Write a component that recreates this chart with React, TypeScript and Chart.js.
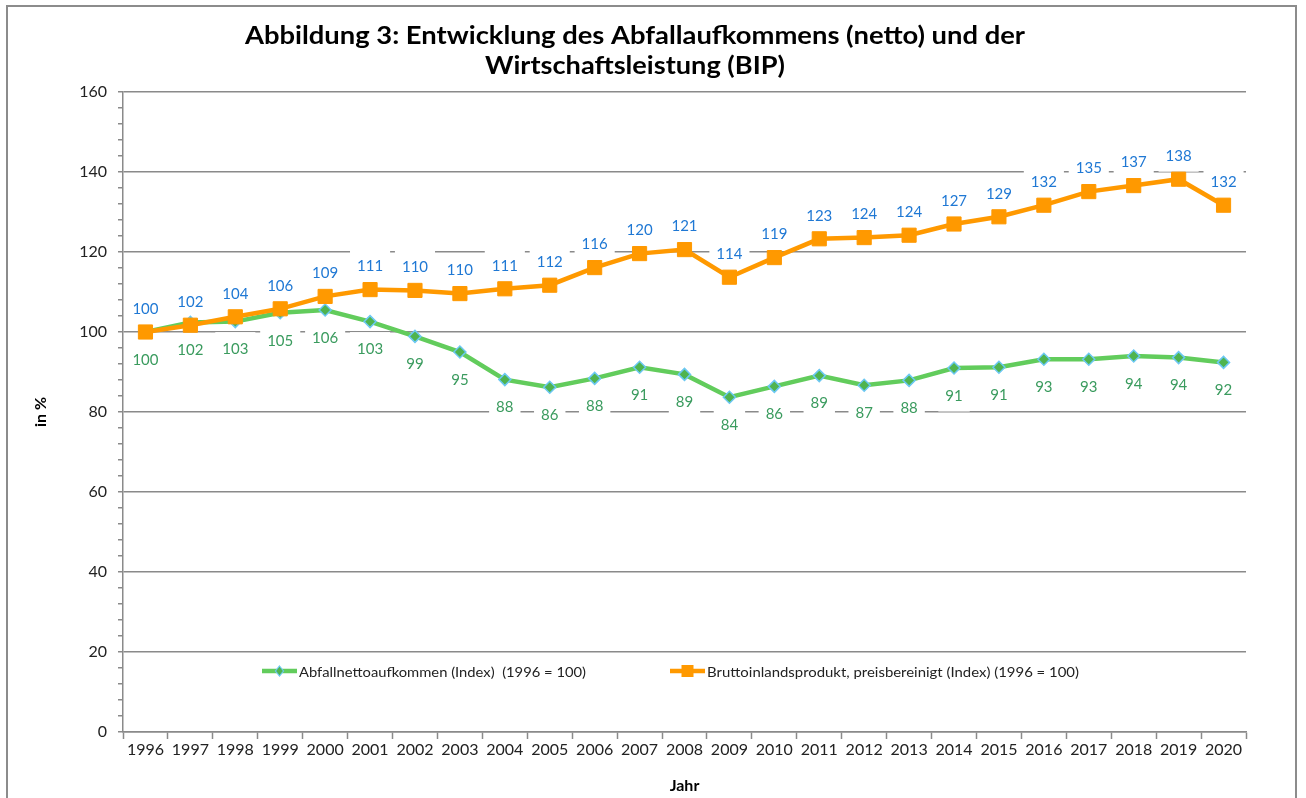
import React, { useEffect, useRef } from 'react';
import { Chart, registerables } from 'chart.js';

Chart.register(...registerables);

// ---------- data ----------
const years = [
  '1996', '1997', '1998', '1999', '2000', '2001', '2002', '2003', '2004', '2005',
  '2006', '2007', '2008', '2009', '2010', '2011', '2012', '2013', '2014', '2015',
  '2016', '2017', '2018', '2019', '2020',
];

const abfallIndex = [
  100, 102.4, 102.6, 104.8, 105.5, 102.6, 98.9, 95.0, 88.1, 86.2,
  88.4, 91.2, 89.4, 83.7, 86.4, 89.1, 86.7, 87.9, 91.0, 91.2,
  93.2, 93.2, 94.0, 93.6, 92.4,
];

const bipIndex = [
  100, 101.7, 103.8, 105.8, 108.9, 110.6, 110.4, 109.6, 110.8, 111.7,
  116.1, 119.6, 120.6, 113.7, 118.6, 123.3, 123.6, 124.2, 127.0, 128.8,
  131.7, 135.1, 136.6, 138.2, 131.7,
];

const titleLines = [
  'Abbildung 3: Entwicklung des Abfallaufkommens (netto) und der',
  'Wirtschaftsleistung (BIP)',
];
const seriesNames = [
  'Abfallnettoaufkommen (Index)  (1996 = 100)',
  'Bruttoinlandsprodukt, preisbereinigt (Index) (1996 = 100)',
];
const yAxisTitle = 'in %';
const xAxisTitle = 'Jahr';
const yMin = 0;
const yMax = 160;
const yMinorStep = 4;
const yMajorStep = 20;

// ---------- styles ----------
const FONT = 'Lato';
const GRID = '#8a8a8a';
const GREEN_LINE = '#62cc5c';
const GREEN_FILL = '#4fb44f';
const DIAMOND_EDGE = '#6cc8f2';
const ORANGE = '#ff9900';
const BLUE_LABEL = '#1f78d4';
const GREEN_LABEL = '#3a9b5e';

const valueLabelPlugin = {
  id: 'valueLabels',
  beforeDatasetsDraw(chart: any, _a: any, opts: any) {
    drawValueLabels(chart, opts, true);
  },
  afterDatasetsDraw(chart: any, _a: any, opts: any) {
    drawValueLabels(chart, opts, false);
  },
};

function drawValueLabels(chart: any, opts: any, boxes: boolean) {
  const ctx = chart.ctx;
  ctx.save();
  ctx.font = `15px ${FONT}`;
  ctx.textAlign = 'center';
  ctx.textBaseline = 'middle';
  chart.data.datasets.forEach((ds: any, i: number) => {
    const meta = chart.getDatasetMeta(i);
    const off = opts.offsets[i];
    const col = opts.colors[i];
    meta.data.forEach((pt: any, j: number) => {
      const txt = String(Math.round(ds.data[j]));
      const x = pt.x;
      const y = pt.y + off;
      if (boxes) {
        const w = ctx.measureText(txt).width + 14;
        ctx.fillStyle = '#ffffff';
        ctx.fillRect(x - w / 2, y - 16.5, w, 33);
      } else {
        ctx.fillStyle = col;
        ctx.fillText(txt, x, y + 1);
      }
    });
  });
  ctx.restore();
}

// draw text centred at cx, stretched horizontally to a given width
function stretchedText(ctx: CanvasRenderingContext2D, text: string, cx: number, y: number, targetW: number) {
  const w = ctx.measureText(text).width;
  const sx = targetW / w;
  ctx.save();
  ctx.translate(cx, y);
  ctx.scale(sx, 1);
  ctx.textAlign = 'center';
  ctx.fillText(text, 0, 0);
  ctx.restore();
}

const decorPlugin = {
  id: 'decor',
  afterDraw(chart: any) {
    const ctx = chart.ctx;
    const area = chart.chartArea;
    ctx.save();
    // outer frame
    ctx.strokeStyle = '#8c8c8c';
    ctx.lineWidth = 2;
    ctx.strokeRect(7, 6, 1289, 900);

    // title
    ctx.fillStyle = '#000';
    ctx.font = `bold 24.5px ${FONT}`;
    ctx.textBaseline = 'alphabetic';
    stretchedText(ctx, titleLines[0], 635, 43.5, 780);
    stretchedText(ctx, titleLines[1], 635, 74, 300);

    // legend (inside plot area)
    const ly = area.top + 579;
    const entries = [
      { x: area.left + 139, name: seriesNames[0], color: GREEN_LINE, marker: 'diamond', w: 287 },
      { x: area.left + 547, name: seriesNames[1], color: ORANGE, marker: 'square', w: 372 },
    ];
    ctx.font = `14px ${FONT}`;
    ctx.textBaseline = 'middle';
    entries.forEach((e) => {
      ctx.strokeStyle = e.color;
      ctx.lineWidth = 4.5;
      ctx.beginPath();
      ctx.moveTo(e.x, ly);
      ctx.lineTo(e.x + 35, ly);
      ctx.stroke();
      const cx = e.x + 17.5;
      if (e.marker === 'diamond') {
        ctx.beginPath();
        ctx.moveTo(cx, ly - 5);
        ctx.lineTo(cx + 4, ly);
        ctx.lineTo(cx, ly + 5);
        ctx.lineTo(cx - 4, ly);
        ctx.closePath();
        ctx.fillStyle = GREEN_FILL;
        ctx.fill();
        ctx.strokeStyle = DIAMOND_EDGE;
        ctx.lineWidth = 1.2;
        ctx.stroke();
      } else {
        ctx.fillStyle = ORANGE;
        ctx.fillRect(cx - 6, ly - 6, 12, 12);
      }
      ctx.fillStyle = '#222';
      stretchedText(ctx, e.name, e.x + 37 + e.w / 2, ly + 1, e.w);
    });
    ctx.restore();
  },
};

export default function App() {
  const canvasRef = useRef<HTMLCanvasElement | null>(null);

  useEffect(() => {
    const canvas = canvasRef.current;
    if (!canvas) return;
    const chart = new Chart(canvas, {
      type: 'line',
      data: {
        labels: years,
        datasets: [
          {
            label: seriesNames[0],
            data: abfallIndex,
            borderColor: GREEN_LINE,
            borderWidth: 4.5,
            pointStyle: 'rectRot',
            pointRadius: 6,
            pointBackgroundColor: GREEN_FILL,
            pointBorderColor: DIAMOND_EDGE,
            pointBorderWidth: 1.5,
            tension: 0,
            order: 2,
          },
          {
            label: seriesNames[1],
            data: bipIndex,
            borderColor: ORANGE,
            borderWidth: 4.5,
            pointStyle: 'rect',
            pointRadius: 10,
            pointBackgroundColor: ORANGE,
            pointBorderColor: ORANGE,
            pointBorderWidth: 1,
            tension: 0,
            order: 1,
          },
        ],
      },
      options: {
        responsive: false,
        animation: false,
        devicePixelRatio: 1,
        layout: { padding: { left: 0, top: 92, right: 60, bottom: 0 } },
        plugins: {
          legend: { display: false },
          title: { display: false },
          tooltip: { enabled: false },
          valueLabels: { offsets: [27, -24], colors: [GREEN_LABEL, BLUE_LABEL] },
        } as any,
        scales: {
          x: {
            type: 'category',
            offset: true,
            afterFit: (s: any) => { s.height = 66; },
            grid: {
              drawOnChartArea: false,
              drawTicks: true,
              tickLength: 7,
              tickWidth: 1.5,
              tickColor: GRID,
              offset: true,
            },
            border: { display: true, color: GRID, width: 1.5 },
            ticks: {
              autoSkip: false,
              maxRotation: 0,
              minRotation: 0,
              padding: 1,
              color: '#222',
              font: { family: FONT, size: 16 },
            },
            title: {
              display: true,
              text: xAxisTitle,
              color: '#000',
              font: { family: FONT, size: 16, weight: 'bold' },
              padding: { top: 0, bottom: 3 },
            },
          },
          y: {
            min: yMin,
            max: yMax,
            afterFit: (s: any) => { s.width = 123; },
            grid: {
              drawTicks: true,
              tickLength: 5,
              tickWidth: 1.5,
              lineWidth: 1.5,
              tickColor: GRID,
              color: (c: any) =>
                c.tick && c.tick.value % yMajorStep === 0 ? GRID : 'rgba(0,0,0,0)',
            },
            border: { display: true, color: GRID, width: 1.5 },
            ticks: {
              stepSize: yMinorStep,
              autoSkip: false,
              padding: 11,
              color: '#222',
              font: { family: FONT, size: 16 },
              callback: (v: any) => (Number(v) % yMajorStep === 0 ? String(v) : ''),
            },
            title: {
              display: true,
              text: yAxisTitle,
              color: '#000',
              font: { family: FONT, size: 16, weight: 'bold' },
              padding: { top: 31, bottom: 0 },
            },
          },
        },
      } as any,
      plugins: [valueLabelPlugin, decorPlugin],
    });
    return () => chart.destroy();
  }, []);

  return (
    <div style={{ position: 'fixed', left: 0, top: 0, width: 1306, height: 798, background: '#fff', overflow: 'hidden' }}>
      <canvas ref={canvasRef} width={1306} height={798} style={{ width: 1306, height: 798, display: 'block' }} />
    </div>
  );
}
